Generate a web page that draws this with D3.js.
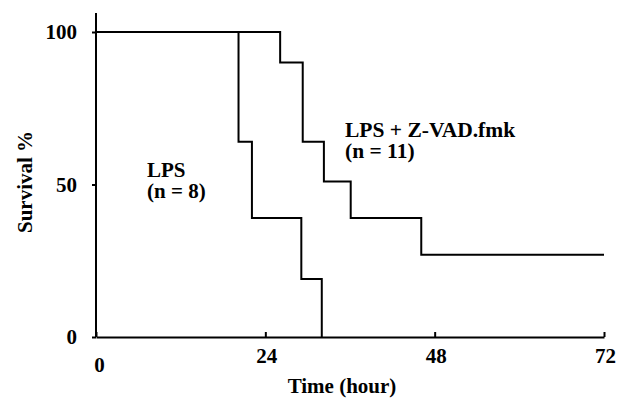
<!DOCTYPE html>
<meta charset="utf-8">
<body style="margin:0;background:#fff">
<svg id="chart" width="630" height="402" style="display:block"></svg>
<script src="https://cdn.jsdelivr.net/npm/d3@7"></script>
<script>
// survival data (time in hours, survival in %)
var lpsTime = [0, 20.2, 22.1, 29.1, 32.0];
var lpsSurv = [100, 64, 39, 19, 0];
var zvadTime = [0, 26.1, 29.3, 32.3, 36.1, 46.1, 72];
var zvadSurv = [100, 90, 64, 51, 39, 27, 27];
var xTicks = [0, 24, 48, 72];
var yTicks = [0, 50, 100];

var svg = d3.select("#chart");
function fontStyle(size) {
  return "font-family:'Liberation Serif';font-weight:bold;font-size:" + size + "px";
}

var x = d3.scaleLinear().domain([0, 72]).range([96, 604]);
var y = d3.scaleLinear().domain([0, 100]).range([337, 32]);

// axes
var yAxis = svg.append("g")
  .attr("transform", "translate(" + x(0) + ",0)")
  .call(d3.axisLeft(y).tickValues(yTicks).tickSize(4).tickSizeOuter(0).tickPadding(15));
yAxis.select(".domain").attr("d", "M0," + (y(100) - 19) + "V" + y(0));

var xAxis = svg.append("g")
  .attr("transform", "translate(0," + y(0) + ")")
  .call(d3.axisBottom(x).tickValues(xTicks).tickSize(-5).tickSizeOuter(0).tickPadding(12));

svg.selectAll("g").attr("font-family", null).attr("font-size", null);
svg.selectAll(".domain, .tick line").attr("stroke", "#000").attr("stroke-width", 2);
svg.selectAll(".tick text").attr("fill", "#000").attr("style", fontStyle(21));
// the "0" on the time axis sits lower than the others in the original
xAxis.selectAll(".tick text").attr("dy", function(d) { return d === 0 ? "1.1em" : "0.68em"; })
  .attr("dx", function(d) { return d === 0 ? 3 : 1; });

// step curves
var line = d3.line()
  .x(function(d) { return x(d[0]); })
  .y(function(d) { return y(d[1]); })
  .curve(d3.curveStepAfter);

[[lpsTime, lpsSurv], [zvadTime, zvadSurv]].forEach(function(s) {
  svg.append("path")
    .attr("d", line(d3.zip(s[0], s[1])))
    .attr("fill", "none").attr("stroke", "#000").attr("stroke-width", 2);
});

// labels
function label(txt, px, py, size, anchor, rot) {
  return svg.append("text")
    .attr("transform", "translate(" + px + "," + py + ")" + (rot ? " rotate(" + rot + ")" : ""))
    .attr("text-anchor", anchor || "start")
    .attr("style", fontStyle(size))
    .attr("fill", "#000")
    .text(txt);
}
label("Time (hour)", 342, 393, 21, "middle");
label("Survival %", 32, 182, 21, "middle", -90);
label("LPS", 147, 177, 21);
label("(n = 8)", 147, 198, 21);
label("LPS + Z-VAD.fmk", 345, 137, 21.5);
label("(n = 11)", 345, 158, 21.5);
</script>
</body>
